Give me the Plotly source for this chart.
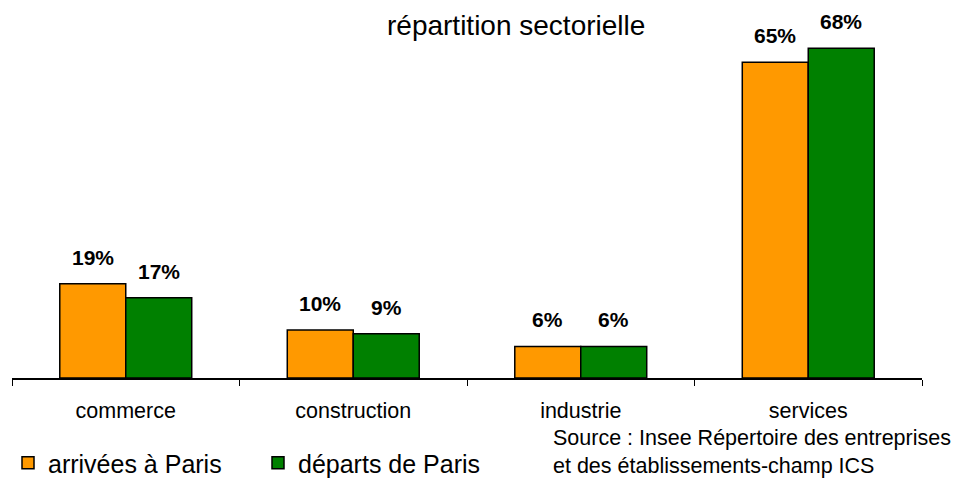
import plotly.graph_objects as go

secteurs = ["commerce", "construction", "industrie", "services"]
arrivees = [19.4, 9.9, 6.5, 65.0]
departs = [16.5, 9.1, 6.5, 67.9]
arrivees_lbl = ["19%", "10%", "6%", "65%"]
departs_lbl = ["17%", "9%", "6%", "68%"]

FONT = "Liberation Sans, Arial, sans-serif"

fig = go.Figure()
fig.add_trace(go.Bar(x=secteurs, y=arrivees, name="arrivées à Paris",
                     marker=dict(color="#FF9900", line=dict(color="black", width=1.5))))
fig.add_trace(go.Bar(x=secteurs, y=departs, name="départs de Paris",
                     marker=dict(color="#008000", line=dict(color="black", width=1.5))))

# value labels above the bars, shifted onto each bar of the group
labels = []
for vals, txt, dx in [(arrivees, arrivees_lbl, -33), (departs, departs_lbl, 33)]:
    for s, v, t in zip(secteurs, vals, txt):
        labels.append(dict(x=s, y=v, text=t, xref="x", yref="y", xshift=dx, yshift=13,
                           xanchor="center", yanchor="bottom", showarrow=False,
                           font=dict(size=21, weight="bold")))

# the page body adds an 8px offset, margins compensate for it
fig.update_layout(width=960, height=478,
                  paper_bgcolor="white", plot_bgcolor="white",
                  font=dict(family=FONT, color="black"),
                  barmode="group", bargap=0.42, bargroupgap=0,
                  margin=dict(l=4, r=46, t=12, b=108),
                  showlegend=True,
                  legend=dict(orientation="h", x=-0.011, xanchor="left", xref="container",
                              y=0, yanchor="bottom", yref="container",
                              font=dict(size=25), entrywidth=205, entrywidthmode="pixels",
                              traceorder="normal", itemclick=False),
                  annotations=labels + [
                      dict(text="répartition sectorielle", xref="paper", yref="paper",
                           x=0.5538, y=1.0335, xanchor="center", yanchor="top",
                           showarrow=False, font=dict(size=28)),
                      dict(text="Source : Insee Répertoire des entreprises<br>et des établissements-champ ICS",
                           xref="paper", yref="paper", x=0.592, y=-0.128, xanchor="left", yanchor="top",
                           align="left", showarrow=False, font=dict(size=21.5)),
                  ])

fig.update_xaxes(showline=True, linecolor="black", linewidth=1.5,
                 ticks="outside", tickson="boundaries", ticklen=6, tickcolor="black",
                 tickfont=dict(size=21.5), ticklabelstandoff=12, showgrid=False)
fig.update_yaxes(visible=False, range=[0, 73.7], showgrid=False, zeroline=False)

fig.write_html("out.html")
